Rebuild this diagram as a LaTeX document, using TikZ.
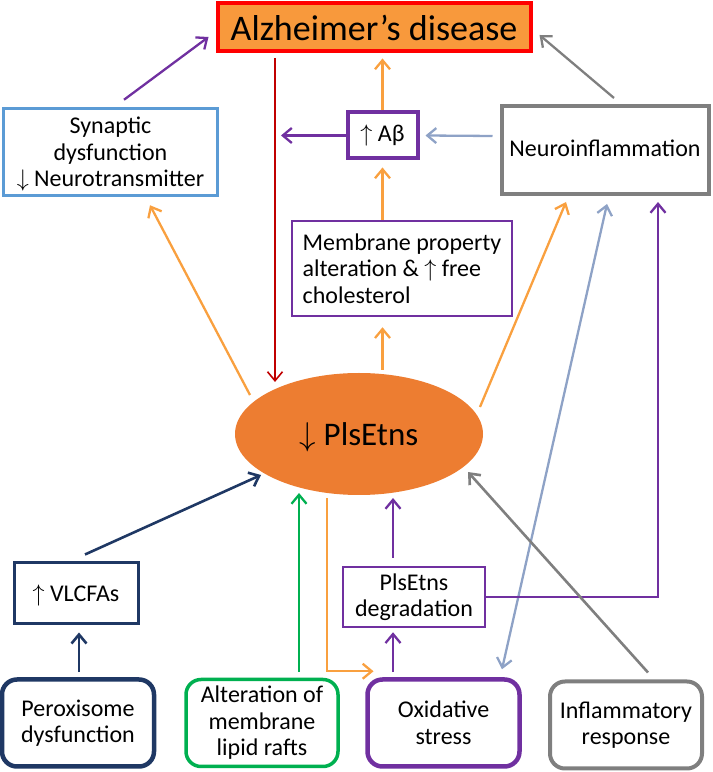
\RequirePackage{fix-cm}
\documentclass[tikz,border=0pt]{standalone}
\usepackage{fontspec}
\setmainfont{Carlito}
\usepackage{tikz}
\usetikzlibrary{arrows.meta,shapes.geometric}
\definecolor{adfill}{HTML}{F8993C}
\definecolor{plsfill}{HTML}{ED7D31}
\definecolor{adred}{HTML}{FF0000}
\definecolor{darkred}{HTML}{C00000}
\definecolor{synblue}{HTML}{5B9BD5}
\definecolor{purp}{HTML}{7030A0}
\definecolor{grayl}{HTML}{7F7F7F}
\definecolor{bluegray}{HTML}{8EA2C6}
\definecolor{orgl}{HTML}{F9A03F}
\definecolor{navy}{HTML}{1F3864}
\definecolor{greenl}{HTML}{00B050}
\newcommand{\uparr}{\smash{$\uparrow$}}
\newcommand{\dnarr}{\smash{$\downarrow$}}

\begin{document}
\begin{tikzpicture}[x=1pt,y=1pt,
      >={Straight Barb[length=9pt,width=15pt]},
      box/.style={draw,rectangle,align=center,inner sep=0pt,text=black,
        font=\fontsize{24}{26.5}\selectfont},
      cause/.style={box,rounded corners=15pt,line width=4.5pt,
        minimum width=152pt,minimum height=87pt},
      post/.style={->,line width=2.3pt}
      ]
      \useasboundingbox (0,0) rectangle (713,772);

      \node[box, fill=adfill, draw=adred, line width=4pt, minimum width=313pt,
        minimum height=48pt, font=\fontsize{36}{40}\selectfont] (ad) at (374,744.5) {Alzheimer’s disease};

      \node[box, draw=synblue, line width=3.5pt, minimum width=214pt, minimum height=87pt]
        (syn) at (110.5,620) {Synaptic\\dysfunction\\\dnarr\ Neurotransmitter};
      \node[box, draw=purp, line width=4pt, minimum width=70pt, minimum height=46pt]
        (ab) at (382.5,636.5) {\uparr\ Aβ};
      \node[box, draw=grayl, line width=4pt, minimum width=207pt, minimum height=88pt]
        (neuro) at (605,622) {\raisebox{4pt}{Neuroinflammation}};
      \node[box, draw=purp, line width=2.5pt, minimum width=220pt, minimum height=95pt, align=left]
        (mem) at (402,503.5) {Membrane property\\alteration \& \uparr\ free\\cholesterol};

      \node[ellipse, fill=plsfill, minimum width=248pt, minimum height=122pt, inner sep=0pt,
        font=\fontsize{33}{36}\selectfont] (pls) at (359,338) {\dnarr\ PlsEtns};

      \node[box, draw=navy, line width=3pt, minimum width=124pt, minimum height=61pt]
        (vlc) at (76,178.5) {\uparr\ VLCFAs};
      \node[box, draw=purp, line width=2.5pt, minimum width=142pt, minimum height=60pt]
        (deg) at (414,175) {PlsEtns\\degradation};

      \node[cause, draw=navy] (per) at (78,49) {Peroxisome\\dysfunction};
      \node[cause, draw=greenl, line width=3.5pt] (alt) at (262,49) {Alteration of\\membrane\\lipid rafts};
      \node[cause, draw=purp] (oxi) at (443.5,49) {Oxidative\\stress};
      \node[cause, draw=grayl, line width=4pt] (inf) at (626,47) {Inflammatory\\response};

      \coordinate (redx) at (275,0);

      % top row
      \draw[post, purp] ([shift={(13.5,7)}]syn.north) -- ([shift={(-7,-9.5)}]ad.west);
      \draw[post, grayl] ([shift={(9,6)}]neuro.north) -- ([shift={(7,-7.5)}]ad.east);
      \draw[post, orgl, shorten >=5pt] (ab.north) -- (ab.north |- ad.south);
      \draw[->, darkred, line width=1.6pt] ([shift={(-99,-5)}]ad.south) -- ([shift={(-84,52)}]pls.center);
      \draw[post, purp] (ab.west) -- ([xshift=6pt]ab.west -| redx);
      \draw[post, bluegray] ([shift={(-7,14)}]neuro.west) -- ([xshift=6pt]ab.east);

      % from PlsEtns upwards
      \draw[post, orgl, shorten >=7pt] (mem.north -| ab.south) -- (ab.south);
      \draw[post, orgl, shorten <=3pt, shorten >=10pt] (pls.north -| ab.south) -- (mem.south -| ab.south);
      \draw[post, orgl] ([shift={(-109,39)}]pls.center) -- ([shift={(39.5,-8)}]syn.south);
      \draw[post, orgl] ([shift={(121,27)}]pls.center) -- ([shift={(-39,-6)}]neuro.south);
      \draw[<->, line width=2.3pt, bluegray] ([shift={(2,-8)}]neuro.south) -- ([shift={(58.5,8)}]oxi.north);
      \draw[post, purp] (deg.east) -| ([shift={(53,-6)}]neuro.south);

      % into PlsEtns
      \draw[post, navy, line width=2.6pt] ([shift={(9,7)}]vlc.north) -- ([shift={(-98,-41)}]pls.center);
      \draw[post, greenl] ([shift={(37,6)}]alt.north) -- ([shift={(-60,-59)}]pls.center);
      \draw[post, orgl] ([shift={(-32,-64)}]pls.center) |- ([shift={(-70,6)}]oxi.north);
      \draw[post, purp] ([shift={(-21,8)}]deg.north) -- ([shift={(34,-64)}]pls.center);
      \draw[post, grayl, line width=2.6pt] ([shift={(22,7)}]inf.north) -- ([shift={(109,-38)}]pls.center);

      % bottom row
      \draw[post, navy, line width=2.6pt] ([shift={(1,5)}]per.north) -- ([shift={(3,-7)}]vlc.south);
      \draw[post, purp] ([shift={(-50.5,5)}]oxi.north) -- ([shift={(-21,-4)}]deg.south);
    \end{tikzpicture}
\end{document}
